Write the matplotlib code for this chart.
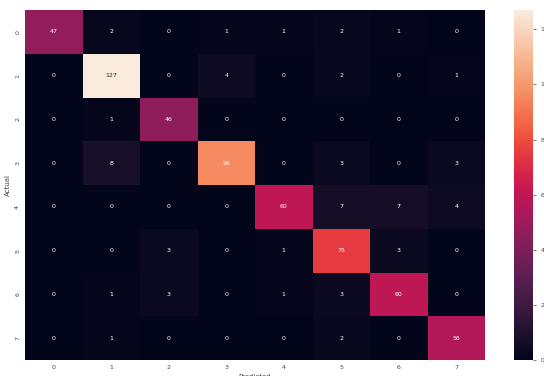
import numpy as np
import matplotlib.pyplot as plt
import seaborn as sns

labels = [0, 1, 2, 3, 4, 5, 6, 7]
cm = np.array([
    [47, 2, 0, 1, 1, 2, 1, 0],
    [0, 127, 0, 4, 0, 2, 0, 1],
    [0, 1, 46, 0, 0, 0, 0, 0],
    [0, 8, 0, 96, 0, 3, 0, 3],
    [0, 0, 0, 0, 60, 7, 7, 4],
    [0, 0, 3, 0, 1, 75, 3, 0],
    [0, 1, 3, 0, 1, 3, 60, 0],
    [0, 1, 0, 0, 0, 2, 0, 56],
])

sns.set_style("white")
fig = plt.figure(figsize=(5.44, 3.76), dpi=100)
ax = fig.add_axes([25 / 544, 16 / 376, 460 / 544, 350 / 376])
cax = fig.add_axes([514 / 544, 16 / 376, 19 / 544, 350 / 376])

sns.heatmap(cm, annot=True, fmt="d", ax=ax, cbar_ax=cax,
            xticklabels=labels, yticklabels=labels,
            annot_kws={"fontsize": 4.5})
ax.set_xlabel("Predicted", fontsize=5, color="#444444", labelpad=3)
ax.set_ylabel("Actual", fontsize=5, color="#444444", labelpad=3)
ax.tick_params(labelsize=4.5, colors="#444444", length=0)
cax.tick_params(labelsize=4.5, colors="#444444", length=2, width=0.5)

fig.savefig("out.png", dpi=100)
